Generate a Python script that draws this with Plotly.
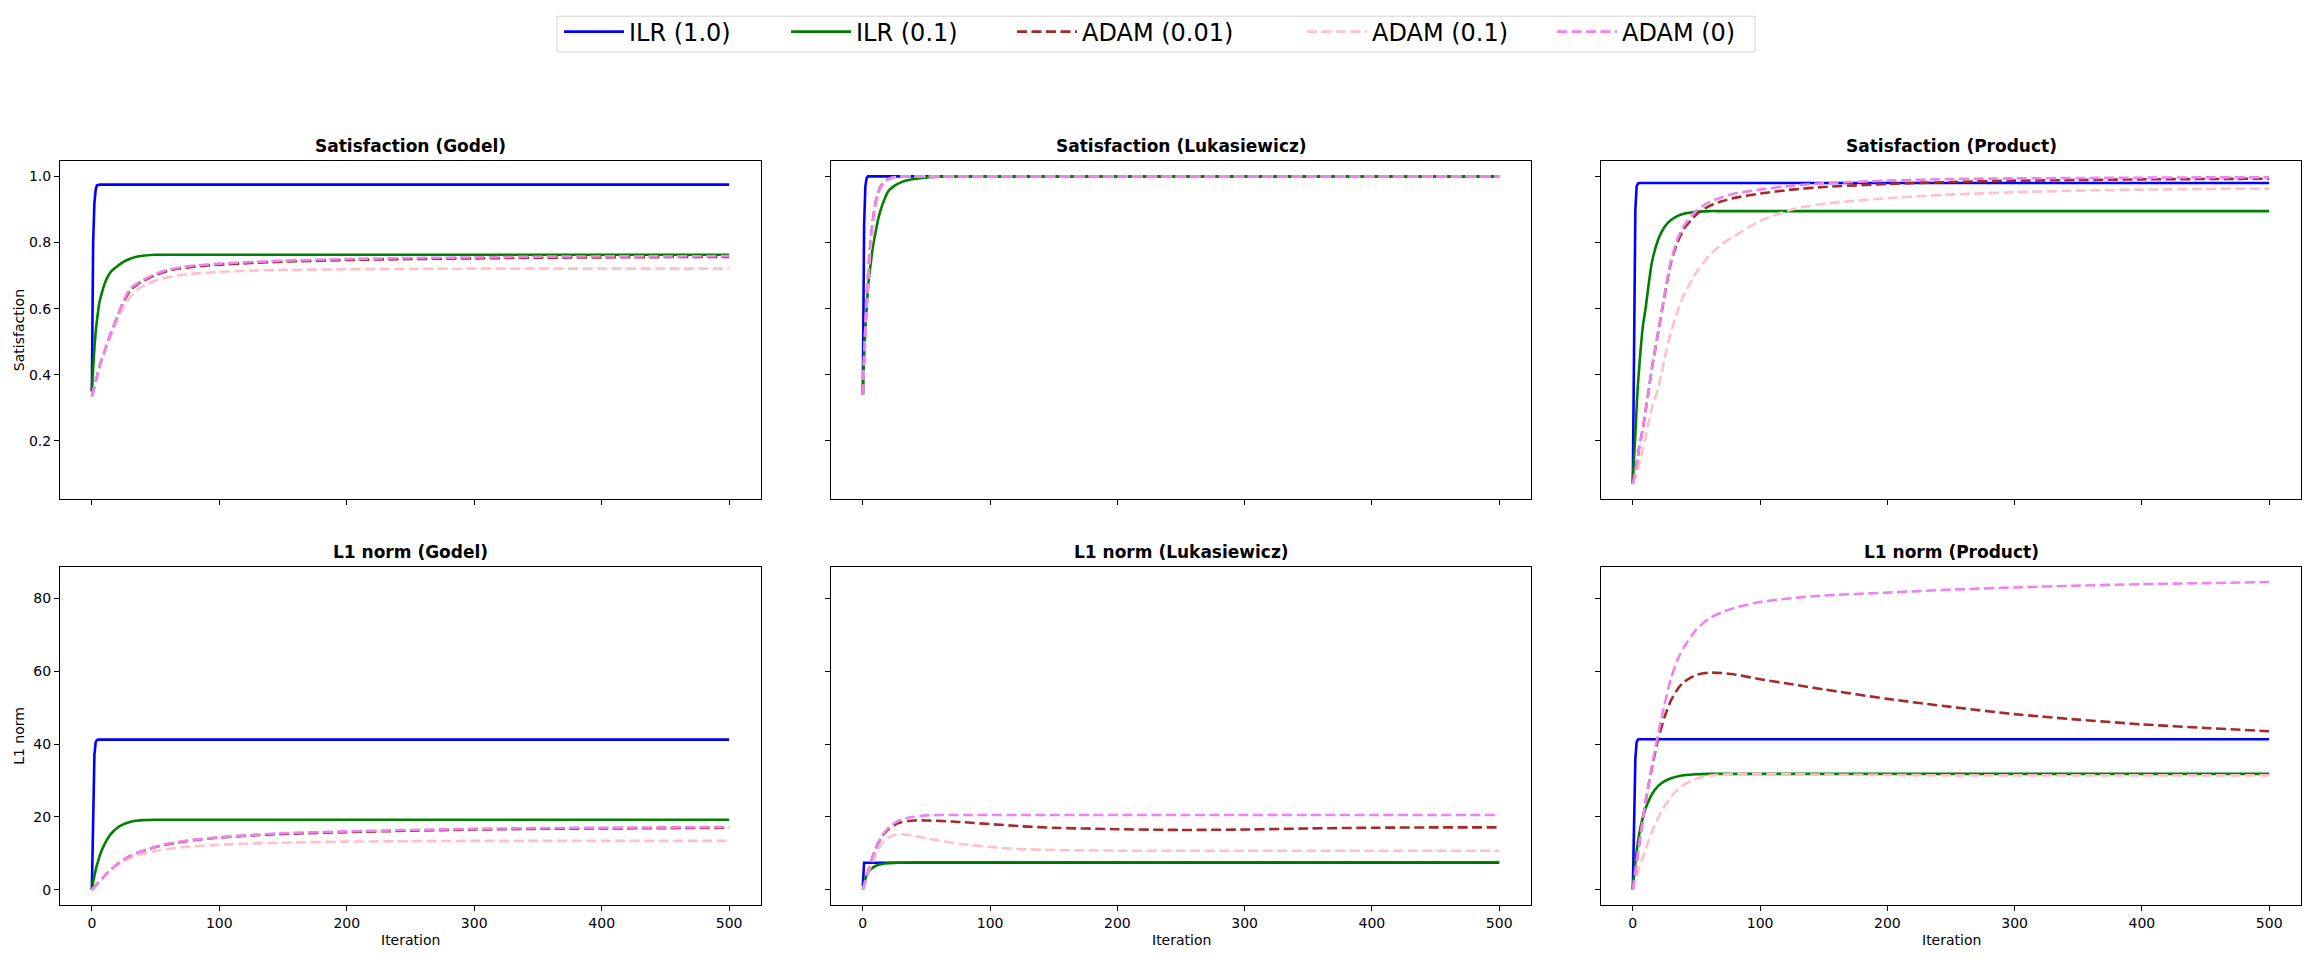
import plotly.graph_objects as go

# ---------------- data ----------------
ITER = [0, 1, 2, 3, 4, 5, 6, 8, 10, 12, 15, 20, 25, 30, 35, 40, 50, 60, 70, 80,
        100, 125, 150, 200, 250, 300, 350, 400, 450, 500]

SERIES = ["ILR (1.0)", "ILR (0.1)", "ADAM (0.01)", "ADAM (0.1)", "ADAM (0)"]
PANEL_TITLES = ["Satisfaction (Godel)", "Satisfaction (Lukasiewicz)", "Satisfaction (Product)",
                "L1 norm (Godel)", "L1 norm (Lukasiewicz)", "L1 norm (Product)"]
X_TICKS = [0, 100, 200, 300, 400, 500]
SAT_TICKS = [0.2, 0.4, 0.6, 0.8, 1.0]
L1_TICKS = [0, 20, 40, 60, 80]

# Satisfaction (Godel)
sat_godel_ilr1 = [0.35, 0.80, 0.92, 0.96, 0.973, 0.975, 0.975, 0.975, 0.975, 0.975, 0.975, 0.975, 0.975, 0.975, 0.975,
                  0.975, 0.975, 0.975, 0.975, 0.975, 0.975, 0.975, 0.975, 0.975, 0.975, 0.975, 0.975, 0.975, 0.975, 0.975]
sat_godel_ilr01 = [0.35, 0.42, 0.48, 0.53, 0.565, 0.595, 0.62, 0.65, 0.675, 0.693, 0.712, 0.728, 0.742, 0.751, 0.757,
                   0.760, 0.763, 0.763, 0.763, 0.763, 0.763, 0.763, 0.763, 0.763, 0.763, 0.763, 0.763, 0.763, 0.763, 0.763]
sat_godel_adam001 = [0.335, 0.35, 0.365, 0.38, 0.395, 0.41, 0.425, 0.45, 0.47, 0.495, 0.525, 0.575, 0.622, 0.655, 0.672,
                     0.683, 0.702, 0.715, 0.722, 0.727, 0.733, 0.738, 0.742, 0.747, 0.750, 0.752, 0.754, 0.755, 0.756, 0.756]
sat_godel_adam01 = [0.335, 0.35, 0.365, 0.38, 0.395, 0.41, 0.425, 0.45, 0.465, 0.49, 0.52, 0.565, 0.605, 0.635, 0.655,
                    0.668, 0.685, 0.695, 0.702, 0.706, 0.711, 0.715, 0.717, 0.719, 0.720, 0.721, 0.721, 0.721, 0.721, 0.721]
sat_godel_adam0 = [0.335, 0.35, 0.365, 0.38, 0.395, 0.41, 0.425, 0.45, 0.47, 0.495, 0.525, 0.575, 0.625, 0.66, 0.675,
                   0.686, 0.705, 0.718, 0.725, 0.730, 0.736, 0.741, 0.745, 0.750, 0.753, 0.755, 0.757, 0.758, 0.758, 0.759]

# Satisfaction (Lukasiewicz)
sat_luk_ilr1 = [0.34, 0.85, 0.97, 0.995, 1.0, 1.0, 1.0, 1.0, 1.0, 1.0, 1.0, 1.0, 1.0, 1.0, 1.0,
                1.0, 1.0, 1.0, 1.0, 1.0, 1.0, 1.0, 1.0, 1.0, 1.0, 1.0, 1.0, 1.0, 1.0, 1.0]
sat_luk_ilr01 = [0.34, 0.45, 0.54, 0.60, 0.66, 0.70, 0.73, 0.79, 0.83, 0.87, 0.91, 0.955, 0.972, 0.982, 0.988,
                 0.992, 0.997, 0.999, 1.0, 1.0, 1.0, 1.0, 1.0, 1.0, 1.0, 1.0, 1.0, 1.0, 1.0, 1.0]
sat_luk_adam001 = [0.34, 0.45, 0.55, 0.63, 0.69, 0.75, 0.80, 0.87, 0.92, 0.95, 0.975, 0.992, 0.998, 1.0, 1.0,
                   1.0, 1.0, 1.0, 1.0, 1.0, 1.0, 1.0, 1.0, 1.0, 1.0, 1.0, 1.0, 1.0, 1.0, 1.0]
sat_luk_adam01 = [0.34, 0.44, 0.53, 0.61, 0.67, 0.73, 0.78, 0.85, 0.90, 0.94, 0.97, 0.99, 0.997, 1.0, 1.0,
                  1.0, 1.0, 1.0, 1.0, 1.0, 1.0, 1.0, 1.0, 1.0, 1.0, 1.0, 1.0, 1.0, 1.0, 1.0]
sat_luk_adam0 = [0.34, 0.45, 0.55, 0.63, 0.69, 0.75, 0.80, 0.87, 0.92, 0.95, 0.975, 0.992, 0.998, 1.0, 1.0,
                 1.0, 1.0, 1.0, 1.0, 1.0, 1.0, 1.0, 1.0, 1.0, 1.0, 1.0, 1.0, 1.0, 1.0, 1.0]

# Satisfaction (Product)
sat_prod_ilr1 = [0.07, 0.60, 0.90, 0.97, 0.978, 0.98, 0.98, 0.98, 0.98, 0.98, 0.98, 0.98, 0.98, 0.98, 0.98,
                 0.98, 0.98, 0.98, 0.98, 0.98, 0.98, 0.98, 0.98, 0.98, 0.98, 0.98, 0.98, 0.98, 0.98, 0.98]
sat_prod_ilr01 = [0.078, 0.15, 0.22, 0.30, 0.37, 0.42, 0.47, 0.55, 0.60, 0.66, 0.74, 0.81, 0.848, 0.868, 0.88,
                  0.887, 0.893, 0.895, 0.895, 0.895, 0.895, 0.895, 0.895, 0.895, 0.895, 0.895, 0.895, 0.895, 0.895, 0.895]
sat_prod_adam001 = [0.07, 0.09, 0.11, 0.13, 0.155, 0.18, 0.20, 0.24, 0.29, 0.34, 0.42, 0.53, 0.64, 0.74, 0.80,
                    0.84, 0.885, 0.91, 0.925, 0.935, 0.948, 0.96, 0.968, 0.977, 0.983, 0.987, 0.989, 0.991, 0.992, 0.993]
sat_prod_adam01 = [0.07, 0.08, 0.09, 0.10, 0.115, 0.13, 0.145, 0.18, 0.21, 0.25, 0.30, 0.36, 0.45, 0.53, 0.59,
                   0.64, 0.71, 0.76, 0.795, 0.82, 0.865, 0.90, 0.917, 0.934, 0.945, 0.952, 0.957, 0.960, 0.962, 0.963]
sat_prod_adam0 = [0.07, 0.09, 0.11, 0.13, 0.155, 0.18, 0.20, 0.24, 0.29, 0.34, 0.42, 0.53, 0.645, 0.745, 0.81,
                  0.85, 0.897, 0.922, 0.937, 0.948, 0.96, 0.972, 0.979, 0.987, 0.992, 0.994, 0.995, 0.996, 0.997, 0.997]

# L1 norm (Godel)
l1_godel_ilr1 = [0, 25, 37, 40.5, 41.1, 41.2, 41.2, 41.2, 41.2, 41.2, 41.2, 41.2, 41.2, 41.2, 41.2,
                 41.2, 41.2, 41.2, 41.2, 41.2, 41.2, 41.2, 41.2, 41.2, 41.2, 41.2, 41.2, 41.2, 41.2, 41.2]
l1_godel_ilr01 = [0, 2.0, 3.8, 5.4, 6.8, 8.0, 9.1, 11.0, 12.5, 13.8, 15.3, 17.0, 18.0, 18.6, 18.9,
                  19.1, 19.2, 19.2, 19.2, 19.2, 19.2, 19.2, 19.2, 19.2, 19.2, 19.2, 19.2, 19.2, 19.2, 19.2]
l1_godel_adam001 = [0, 0.3, 0.7, 1.1, 1.5, 1.9, 2.3, 3.0, 3.8, 4.5, 5.5, 7.0, 8.2, 9.2, 10.0,
                    10.6, 11.7, 12.5, 13.1, 13.6, 14.3, 14.9, 15.3, 15.8, 16.2, 16.5, 16.7, 16.8, 16.9, 17.0]
l1_godel_adam01 = [0, 0.3, 0.7, 1.1, 1.5, 1.9, 2.3, 3.0, 3.7, 4.4, 5.3, 6.7, 7.8, 8.6, 9.3,
                   9.8, 10.6, 11.2, 11.6, 11.9, 12.3, 12.7, 12.9, 13.2, 13.3, 13.4, 13.4, 13.4, 13.4, 13.4]
l1_godel_adam0 = [0, 0.3, 0.7, 1.1, 1.5, 1.9, 2.3, 3.0, 3.8, 4.5, 5.5, 7.0, 8.2, 9.2, 10.0,
                  10.7, 11.8, 12.6, 13.2, 13.7, 14.4, 15.0, 15.5, 16.0, 16.4, 16.7, 16.9, 17.0, 17.1, 17.2]

# L1 norm (Lukasiewicz)
l1_luk_ilr1 = [1.0, 7.4, 7.4, 7.4, 7.4, 7.4, 7.4, 7.4, 7.4, 7.4, 7.4, 7.4, 7.4, 7.4, 7.4,
               7.4, 7.4, 7.4, 7.4, 7.4, 7.4, 7.4, 7.4, 7.4, 7.4, 7.4, 7.4, 7.4, 7.4, 7.4]
l1_luk_ilr01 = [0.5, 1.8, 3.0, 3.9, 4.6, 5.1, 5.5, 6.1, 6.5, 6.8, 7.05, 7.25, 7.35, 7.42, 7.46,
                7.48, 7.5, 7.5, 7.5, 7.5, 7.5, 7.5, 7.5, 7.5, 7.5, 7.5, 7.5, 7.5, 7.5, 7.5]
l1_luk_adam001 = [0, 1.2, 2.4, 3.6, 4.8, 6.0, 7.1, 9.3, 11.2, 12.7, 14.6, 16.6, 17.8, 18.5, 18.8,
                  19.0, 19.0, 18.9, 18.7, 18.5, 18.0, 17.4, 17.0, 16.6, 16.4, 16.5, 16.8, 17.0, 17.1, 17.1]
l1_luk_adam01 = [0, 1.1, 2.2, 3.3, 4.3, 5.3, 6.2, 8.0, 9.6, 11.0, 12.8, 14.3, 15.0, 15.2, 15.1,
                 14.8, 14.1, 13.5, 12.9, 12.4, 11.7, 11.1, 10.9, 10.7, 10.7, 10.7, 10.7, 10.7, 10.7, 10.7]
l1_luk_adam0 = [0, 1.2, 2.4, 3.6, 4.8, 6.0, 7.1, 9.3, 11.2, 12.8, 14.8, 16.9, 18.3, 19.2, 19.7,
                20.0, 20.4, 20.5, 20.5, 20.5, 20.5, 20.5, 20.5, 20.5, 20.5, 20.5, 20.5, 20.5, 20.5, 20.5]

# L1 norm (Product)
l1_prod_ilr1 = [0, 22, 36, 40.5, 41.2, 41.3, 41.3, 41.3, 41.3, 41.3, 41.3, 41.3, 41.3, 41.3, 41.3,
                41.3, 41.3, 41.3, 41.3, 41.3, 41.3, 41.3, 41.3, 41.3, 41.3, 41.3, 41.3, 41.3, 41.3, 41.3]
l1_prod_ilr01 = [0, 4.0, 7.5, 10.5, 13.0, 15.2, 17.0, 20.0, 22.3, 24.0, 26.2, 28.5, 29.8, 30.6, 31.1,
                 31.4, 31.7, 31.8, 31.8, 31.8, 31.8, 31.8, 31.8, 31.8, 31.8, 31.8, 31.8, 31.8, 31.8, 31.8]
l1_prod_adam001 = [0, 2.5, 5.0, 7.5, 10.0, 12.5, 15.0, 19.5, 24.0, 28.0, 33.5, 41.5, 47.5, 52.0, 55.0,
                   57.0, 59.0, 59.6, 59.5, 59.1, 57.8, 56.4, 55.0, 52.4, 50.2, 48.2, 46.7, 45.4, 44.4, 43.5]
l1_prod_adam01 = [0, 1.2, 2.4, 3.6, 4.8, 6.0, 7.0, 9.0, 11.0, 13.0, 15.8, 19.8, 23.0, 25.5, 27.4,
                  28.8, 30.5, 31.3, 31.6, 31.8, 31.8, 31.7, 31.6, 31.5, 31.4, 31.4, 31.4, 31.4, 31.4, 31.4]
l1_prod_adam0 = [0, 2.5, 5.0, 7.5, 10.0, 12.5, 15.0, 19.5, 24.0, 28.0, 34.0, 43.0, 51.0, 58.0, 63.0,
                 66.5, 71.5, 74.5, 76.2, 77.4, 79.0, 80.1, 80.8, 81.6, 82.4, 83.0, 83.5, 83.9, 84.2, 84.5]

PANELS = [
    [sat_godel_ilr1, sat_godel_ilr01, sat_godel_adam001, sat_godel_adam01, sat_godel_adam0],
    [sat_luk_ilr1, sat_luk_ilr01, sat_luk_adam001, sat_luk_adam01, sat_luk_adam0],
    [sat_prod_ilr1, sat_prod_ilr01, sat_prod_adam001, sat_prod_adam01, sat_prod_adam0],
    [l1_godel_ilr1, l1_godel_ilr01, l1_godel_adam001, l1_godel_adam01, l1_godel_adam0],
    [l1_luk_ilr1, l1_luk_ilr01, l1_luk_adam001, l1_luk_adam01, l1_luk_adam0],
    [l1_prod_ilr1, l1_prod_ilr01, l1_prod_adam001, l1_prod_adam01, l1_prod_adam0],
]

# ---------------- styling ----------------
COLORS = ["blue", "green", "brown", "pink", "violet"]
DASHES = ["solid", "solid", "10px,4.5px", "10px,4.5px", "10px,4.5px"]
SHAPES = ["linear", "spline", "spline", "spline", "spline"]
FONT = "DejaVu Sans"

# the page body has an 8px margin; size the figure so that no scrollbars appear
# and place everything in screen coordinates of the 2311x958 window
BODY = 8
SCR_W, SCR_H = 2311, 958
W, H = SCR_W - 2 * BODY, SCR_H - 2 * BODY
ML = 60 - BODY
MT = 155 - BODY
MR = W - (2301 - BODY)
MB = H - (905 - BODY)
PW, PH = W - ML - MR, H - MT - MB

def fx(px):  # screen px -> paper x
    return (px - BODY - ML) / PW

def fy(py):  # screen px -> paper y
    return (H - MB - (py - BODY)) / PH

col_px = [(60, 761), (831, 1531), (1601, 2301)]
row_px = [(155, 496), (564, 905)]
XDOM = [[fx(a), fx(b)] for a, b in col_px]
YDOM = [[fy(b), fy(a)] for a, b in row_px]

# legend entry line-start positions in the reference (screen px)
LEG_X = [564, 791, 1017, 1307, 1557]
LEG_NAMES = ["legend", "legend2", "legend3", "legend4", "legend5"]

fig = go.Figure()

for p in range(6):
    r, c = divmod(p, 3)
    idx = p + 1
    xa = "x" if idx == 1 else f"x{idx}"
    ya = "y" if idx == 1 else f"y{idx}"
    for s in range(5):
        fig.add_trace(go.Scatter(
            x=ITER, y=PANELS[p][s], mode="lines", name=SERIES[s],
            line=dict(color=COLORS[s], width=2.6, dash=DASHES[s], shape=SHAPES[s], smoothing=0.6),
            legendgroup=SERIES[s], showlegend=(p == 0), legend=LEG_NAMES[s],
            xaxis=xa, yaxis=ya,
        ))

layout = dict(
    width=W, height=H,
    margin=dict(l=ML, r=MR, t=MT, b=MB),
    paper_bgcolor="white", plot_bgcolor="white",
    font=dict(family=FONT, size=14, color="black"),
    showlegend=True,
)
for s in range(5):
    layout[LEG_NAMES[s]] = dict(
        orientation="h", x=fx(LEG_X[s] - 5), xanchor="left", y=fy(25), yanchor="middle",
        font=dict(family=FONT, size=24, color="black"),
        borderwidth=0, bgcolor="rgba(0,0,0,0)", itemwidth=60,
    )

layout["shapes"] = [dict(
    type="rect", xref="paper", yref="paper",
    x0=fx(557), x1=fx(1755), y0=fy(45), y1=fy(9),
    line=dict(color="#d4d4d4", width=1), fillcolor="rgba(0,0,0,0)", layer="below",
)]

annotations = []
for p in range(6):
    r, c = divmod(p, 3)
    idx = p + 1
    xk = "xaxis" if idx == 1 else f"xaxis{idx}"
    yk = "yaxis" if idx == 1 else f"yaxis{idx}"
    yanchor_name = "y" if idx == 1 else f"y{idx}"
    xanchor_name = "x" if idx == 1 else f"x{idx}"
    layout[xk] = dict(
        domain=XDOM[c], anchor=yanchor_name, range=[-25, 525],
        tickvals=X_TICKS, showticklabels=(r == 1),
        ticks="outside", ticklen=5, tickwidth=1, tickcolor="black",
        showline=True, linecolor="black", linewidth=1.1, mirror=True,
        showgrid=False, zeroline=False,
        tickfont=dict(family=FONT, size=14, color="black"),
    )
    if r == 0:
        layout[yk] = dict(
            domain=YDOM[0], anchor=xanchor_name, range=[0.0235, 1.0465],
            tickvals=SAT_TICKS, tickformat=".1f", showticklabels=(c == 0),
        )
    else:
        layout[yk] = dict(
            domain=YDOM[1], anchor=xanchor_name, range=[-4.22, 88.7],
            tickvals=L1_TICKS, showticklabels=(c == 0),
        )
    layout[yk].update(dict(
        ticks="outside", ticklen=5, tickwidth=1, tickcolor="black",
        showline=True, linecolor="black", linewidth=1.1, mirror=True,
        showgrid=False, zeroline=False,
        tickfont=dict(family=FONT, size=14, color="black"),
    ))
    annotations.append(dict(
        text=f"<b>{PANEL_TITLES[p]}</b>", xref="paper", yref="paper",
        x=(XDOM[c][0] + XDOM[c][1]) / 2, y=YDOM[r][1], xanchor="center", yanchor="bottom",
        yshift=3, showarrow=False, font=dict(family=FONT, size=17, color="black"),
    ))
    if r == 1:
        annotations.append(dict(
            text="Iteration", xref="paper", yref="paper",
            x=(XDOM[c][0] + XDOM[c][1]) / 2, y=fy(940), xanchor="center", yanchor="middle",
            showarrow=False, font=dict(family=FONT, size=14, color="black"),
        ))

annotations.append(dict(
    text="Satisfaction", xref="paper", yref="paper", x=fx(19), y=fy(325.5),
    xanchor="center", yanchor="middle", textangle=-90, showarrow=False,
    font=dict(family=FONT, size=14, color="black"),
))
annotations.append(dict(
    text="L1 norm", xref="paper", yref="paper", x=fx(19), y=fy(734.5),
    xanchor="center", yanchor="middle", textangle=-90, showarrow=False,
    font=dict(family=FONT, size=14, color="black"),
))
layout["annotations"] = annotations

fig.update_layout(**layout)
fig.write_html("out.html")
